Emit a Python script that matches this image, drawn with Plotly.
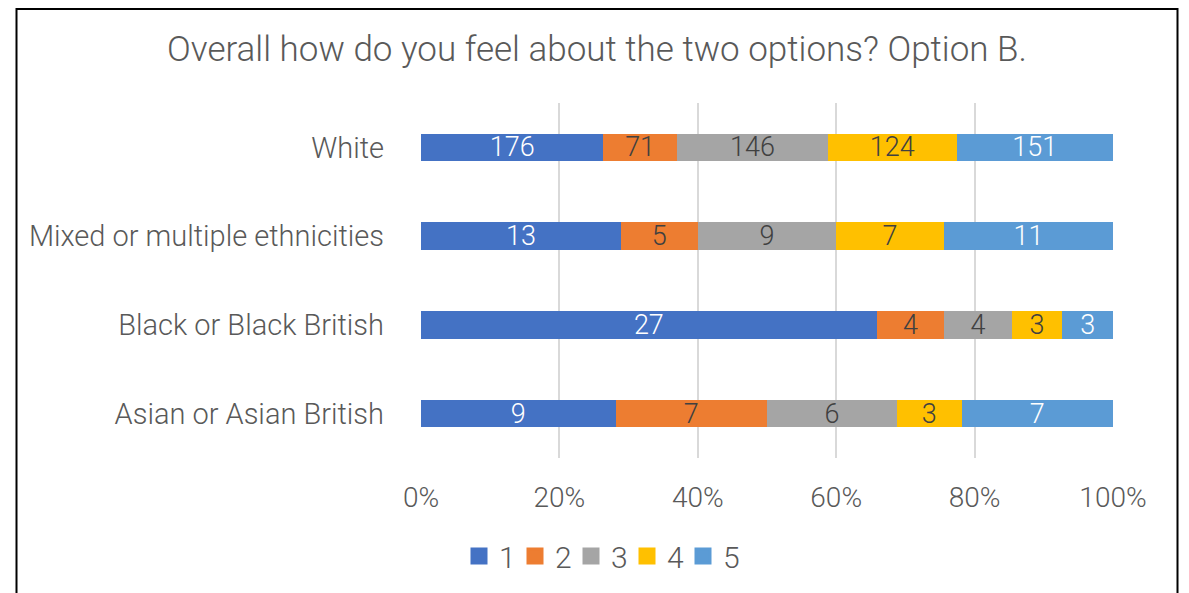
import plotly.graph_objects as go

categories = ["White", "Mixed or multiple ethnicities", "Black or Black British", "Asian or Asian British"]
series_names = ["1", "2", "3", "4", "5"]
values_1 = [176, 13, 27, 9]
values_2 = [71, 5, 4, 7]
values_3 = [146, 9, 4, 6]
values_4 = [124, 7, 3, 3]
values_5 = [151, 11, 3, 7]
tick_vals = [0, 20, 40, 60, 80, 100]
tick_text = ["0%", "20%", "40%", "60%", "80%", "100%"]

colors = ["#4472C4", "#ED7D31", "#A5A5A5", "#FFC000", "#5B9BD5"]
text_colors = ["#FFFFFF", "#404040", "#404040", "#404040", "#FFFFFF"]
all_values = [values_1, values_2, values_3, values_4, values_5]

FONT = "Roboto"
OFF = 8  # page body margin

W, H = 1189, 593
L, R, T, B = 421 - OFF, 1113 - OFF, 103 - OFF, 458 - OFF
pw, ph = R - L, B - T


def px(x):
    return (x - OFF - L) / pw


def py(y):
    return (B - (y - OFF)) / ph


fig = go.Figure()
for name, vals, col, tcol in zip(series_names, all_values, colors, text_colors):
    fig.add_trace(go.Bar(
        y=categories, x=vals, name=name, orientation="h",
        marker=dict(color=col, line=dict(width=0)),
        text=[str(v) for v in vals], textposition="inside", textangle=0,
        insidetextanchor="middle", constraintext="none",
        textfont=dict(family=FONT, size=27, color=tcol, weight=300),
        hoverinfo="skip", showlegend=False,
    ))
    # legend proxy with square swatch
    fig.add_trace(go.Scatter(
        x=[None], y=[None], mode="markers", name=name,
        marker=dict(symbol="square", size=14, color=col, line=dict(color=col, width=3)),
        hoverinfo="skip", showlegend=True,
    ))

fig.update_layout(
    width=W, height=H,
    barmode="stack", barnorm="percent", bargap=0.69,
    margin=dict(l=L, r=W - R, t=T, b=H - B, pad=0),
    paper_bgcolor="white", plot_bgcolor="white",
    title=dict(text="Overall how do you feel about the two options? Option B.",
               x=(597 - OFF) / W, xanchor="center", y=1 - (49 - OFF) / H, yanchor="middle",
               font=dict(family=FONT, size=35, color="#595959", weight=300)),
    xaxis=dict(range=[0, 100], tickvals=tick_vals, ticktext=tick_text,
               showgrid=True, gridcolor="#D9D9D9", gridwidth=1.5, zeroline=False,
               showline=False, ticks="", ticklabelstandoff=20,
               tickfont=dict(family=FONT, size=28, color="#595959", weight=300)),
    yaxis=dict(categoryorder="array", categoryarray=categories, autorange="reversed",
               showgrid=False, zeroline=False, showline=False, ticks="",
               ticklabelstandoff=36,
               tickfont=dict(family=FONT, size=29, color="#595959", weight=300)),
    legend=dict(orientation="h", x=px(599), xanchor="center", y=py(556), yanchor="middle",
                font=dict(family=FONT, size=30, color="#595959", weight=300),
                traceorder="normal", itemclick=False, itemwidth=30,
                entrywidth=11, entrywidthmode="pixels",
                bgcolor="rgba(0,0,0,0)"),
    showlegend=True,
    shapes=[dict(type="rect", xref="paper", yref="paper",
                 x0=px(16.5), x1=px(1177.5), y0=py(640), y1=py(OFF + 1),
                 line=dict(color="#000000", width=2), fillcolor="rgba(0,0,0,0)", layer="above")],
)

fig.write_html("out.html")
